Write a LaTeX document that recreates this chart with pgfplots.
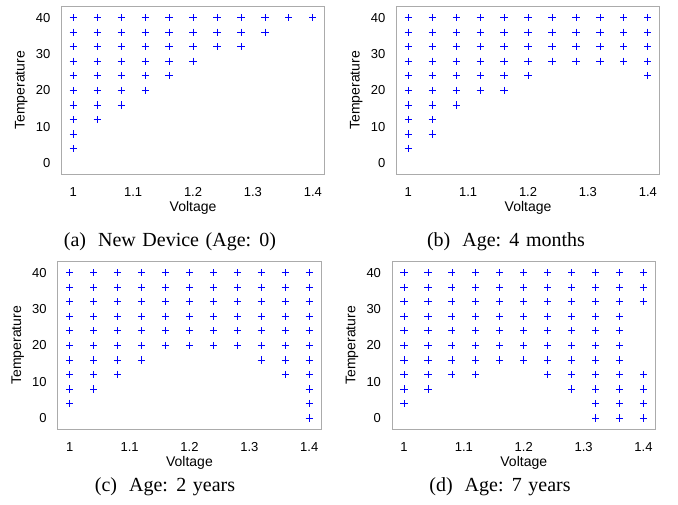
\documentclass[border=0pt]{standalone}
\usepackage{fontspec}
\setmainfont{Liberation Serif}
\newfontfamily\helv{Liberation Sans}
\usepackage{pgfplots}
\pgfplotsset{compat=1.18}
\newcommand{\capfont}{\fontsize{20}{20}\selectfont\spaceskip=0.33em\relax}
\pgfplotsset{
  myax/.style={
    scale only axis, width=263.5pt, height=167.3pt,
    xmin=0.98, xmax=1.42, ymin=-3, ymax=43,
    xtick={1,1.1,1.2,1.3,1.4}, ytick={0,10,20,30,40},
    major tick length=0pt,
    axis line style={draw=black!33, line width=0.8pt},
    /pgf/number format/assume math mode=true,
    tick label style={font=\helv\fontsize{13}{13}\selectfont},
    xticklabel style={yshift=-10pt},
    yticklabel style={xshift=-7.5pt},
    xlabel=Voltage, ylabel=Temperature,
    label style={font=\helv\fontsize{14}{14}\selectfont},
    xlabel style={at={(axis description cs:0.5,-0.2)}, anchor=center},
    ylabel style={at={(axis description cs:-0.152,0.5)}, anchor=center},
  },
  mk/.style={only marks, mark=+, mark size=3.6pt, draw=blue, color=blue, mark options={draw=blue, line width=0.75pt, solid}},
}
\begin{document}
\begin{tikzpicture}[x=1pt,y=1pt]
\useasboundingbox (0,0) rectangle (678,-504);
% (a)
\begin{axis}[myax, at={(61.3pt,-174pt)}, anchor=south west]
\addplot[mk] coordinates {
(1,4)(1,8)(1,12)(1,16)(1,20)(1,24)(1,28)(1,32)(1,36)(1,40)
(1.04,12)(1.04,16)(1.04,20)(1.04,24)(1.04,28)(1.04,32)(1.04,36)(1.04,40)
(1.08,16)(1.08,20)(1.08,24)(1.08,28)(1.08,32)(1.08,36)(1.08,40)
(1.12,20)(1.12,24)(1.12,28)(1.12,32)(1.12,36)(1.12,40)
(1.16,24)(1.16,28)(1.16,32)(1.16,36)(1.16,40)
(1.2,28)(1.2,32)(1.2,36)(1.2,40)
(1.24,32)(1.24,36)(1.24,40)
(1.28,32)(1.28,36)(1.28,40)
(1.32,36)(1.32,40)
(1.36,40)
(1.4,40)
};
\end{axis}
% (b)
\begin{axis}[myax, at={(396.3pt,-174pt)}, anchor=south west]
\addplot[mk] coordinates {
(1,4)(1,8)(1,12)(1,16)(1,20)(1,24)(1,28)(1,32)(1,36)(1,40)
(1.04,8)(1.04,12)(1.04,16)(1.04,20)(1.04,24)(1.04,28)(1.04,32)(1.04,36)(1.04,40)
(1.08,16)(1.08,20)(1.08,24)(1.08,28)(1.08,32)(1.08,36)(1.08,40)
(1.12,20)(1.12,24)(1.12,28)(1.12,32)(1.12,36)(1.12,40)
(1.16,20)(1.16,24)(1.16,28)(1.16,32)(1.16,36)(1.16,40)
(1.2,24)(1.2,28)(1.2,32)(1.2,36)(1.2,40)
(1.24,28)(1.24,32)(1.24,36)(1.24,40)
(1.28,28)(1.28,32)(1.28,36)(1.28,40)
(1.32,28)(1.32,32)(1.32,36)(1.32,40)
(1.36,28)(1.36,32)(1.36,36)(1.36,40)
(1.4,24)(1.4,28)(1.4,32)(1.4,36)(1.4,40)
};
\end{axis}
% (c)
\begin{axis}[myax, at={(57.7pt,-429pt)}, anchor=south west]
\addplot[mk] coordinates {
(1,4)(1,8)(1,12)(1,16)(1,20)(1,24)(1,28)(1,32)(1,36)(1,40)
(1.04,8)(1.04,12)(1.04,16)(1.04,20)(1.04,24)(1.04,28)(1.04,32)(1.04,36)(1.04,40)
(1.08,12)(1.08,16)(1.08,20)(1.08,24)(1.08,28)(1.08,32)(1.08,36)(1.08,40)
(1.12,16)(1.12,20)(1.12,24)(1.12,28)(1.12,32)(1.12,36)(1.12,40)
(1.16,20)(1.16,24)(1.16,28)(1.16,32)(1.16,36)(1.16,40)
(1.2,20)(1.2,24)(1.2,28)(1.2,32)(1.2,36)(1.2,40)
(1.24,20)(1.24,24)(1.24,28)(1.24,32)(1.24,36)(1.24,40)
(1.28,20)(1.28,24)(1.28,28)(1.28,32)(1.28,36)(1.28,40)
(1.32,16)(1.32,20)(1.32,24)(1.32,28)(1.32,32)(1.32,36)(1.32,40)
(1.36,12)(1.36,16)(1.36,20)(1.36,24)(1.36,28)(1.36,32)(1.36,36)(1.36,40)
(1.4,0)(1.4,4)(1.4,8)(1.4,12)(1.4,16)(1.4,20)(1.4,24)(1.4,28)(1.4,32)(1.4,36)(1.4,40)
};
\end{axis}
% (d)
\begin{axis}[myax, at={(392pt,-429pt)}, anchor=south west]
\addplot[mk] coordinates {
(1,4)(1,8)(1,12)(1,16)(1,20)(1,24)(1,28)(1,32)(1,36)(1,40)
(1.04,8)(1.04,12)(1.04,16)(1.04,20)(1.04,24)(1.04,28)(1.04,32)(1.04,36)(1.04,40)
(1.08,12)(1.08,16)(1.08,20)(1.08,24)(1.08,28)(1.08,32)(1.08,36)(1.08,40)
(1.12,12)(1.12,16)(1.12,20)(1.12,24)(1.12,28)(1.12,32)(1.12,36)(1.12,40)
(1.16,16)(1.16,20)(1.16,24)(1.16,28)(1.16,32)(1.16,36)(1.16,40)
(1.2,16)(1.2,20)(1.2,24)(1.2,28)(1.2,32)(1.2,36)(1.2,40)
(1.24,12)(1.24,16)(1.24,20)(1.24,24)(1.24,28)(1.24,32)(1.24,36)(1.24,40)
(1.28,8)(1.28,12)(1.28,16)(1.28,20)(1.28,24)(1.28,28)(1.28,32)(1.28,36)(1.28,40)
(1.32,0)(1.32,4)(1.32,8)(1.32,12)(1.32,16)(1.32,20)(1.32,24)(1.32,28)(1.32,32)(1.32,36)(1.32,40)
(1.36,0)(1.36,4)(1.36,8)(1.36,12)(1.36,16)(1.36,20)(1.36,24)(1.36,28)(1.36,32)(1.36,36)(1.36,40)
(1.4,0)(1.4,4)(1.4,8)(1.4,12)(1.4,32)(1.4,36)(1.4,40)
};
\end{axis}
% captions
\begin{scope}[every node/.style={anchor=base, inner sep=0pt}]
\node at (170,-246) {\capfont (a)\hspace{0.6em}New Device (Age: 0)};
\node at (506,-246) {\capfont (b)\hspace{0.6em}Age: 4 months};
\node at (165,-491) {\capfont (c)\hspace{0.6em}Age: 2 years};
\node at (500,-491) {\capfont (d)\hspace{0.6em}Age: 7 years};
\end{scope}
\end{tikzpicture}
\end{document}
